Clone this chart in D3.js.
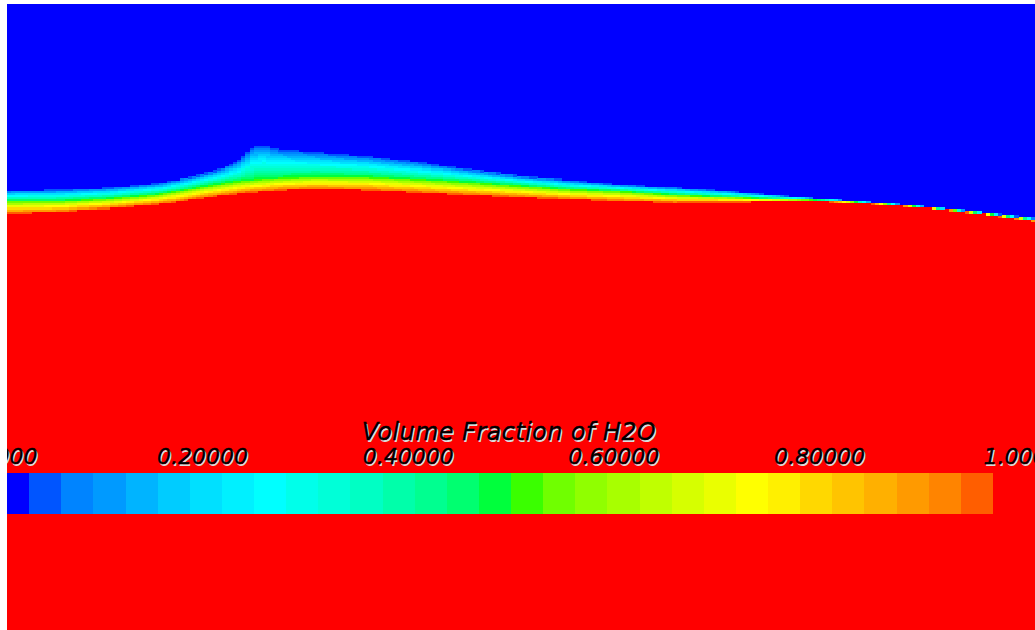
<!DOCTYPE html>
<html>
<head>
<meta charset="utf-8">
<script src="https://cdn.jsdelivr.net/npm/d3@7"></script>
<style>
  html, body { margin: 0; padding: 0; background: #ffffff; }
  svg { display: block; }
</style>
</head>
<body>
<script>
// Free-surface profile along the channel (x and elevation in metres).
// surfaceTop: upper edge of the diffuse interface (fraction -> 0)
// surfaceMid: fraction = 0.5 contour
// surfaceBase: lower edge of the interface (fraction -> 1)
const stationX = [0, 0.1, 0.2, 0.3, 0.35, 0.4, 0.45, 0.48, 0.5, 0.53, 0.6, 0.7, 0.8,
                  0.9, 1.0, 1.1, 1.2, 1.3, 1.4, 1.5, 1.6, 1.7, 1.8, 1.9, 2.0];
const surfaceTop = [0.858, 0.860, 0.864, 0.873, 0.883, 0.896, 0.916, 0.947, 0.949, 0.941,
                    0.934, 0.926, 0.914, 0.900, 0.886, 0.877, 0.869, 0.864, 0.857, 0.848,
                    0.840, 0.833, 0.825, 0.814, 0.802];
const surfaceMid = [0.836, 0.836, 0.841, 0.850, 0.859, 0.868, 0.875, 0.878, 0.880, 0.882,
                    0.885, 0.884, 0.879, 0.873, 0.866, 0.859, 0.855, 0.848, 0.844, 0.840,
                    0.837, 0.831, 0.823, 0.812, 0.799];
const surfaceBase = [0.811, 0.814, 0.821, 0.829, 0.836, 0.843, 0.849, 0.852, 0.853, 0.856,
                     0.858, 0.856, 0.851, 0.846, 0.842, 0.838, 0.834, 0.832, 0.833, 0.834,
                     0.834, 0.829, 0.822, 0.810, 0.797];

// 32-band colour map for the volume fraction
const bandColors = [
  "#0000ff", "#0055ff", "#0084ff", "#009aff", "#00b4ff", "#00ccff", "#00e0ff", "#00f0ff",
  "#00ffff", "#00ffea", "#00ffd8", "#00ffc4", "#00ffaa", "#00ff90", "#00ff70", "#00ff3c",
  "#3aff00", "#70ff00", "#90ff00", "#a8ff00", "#c0ff00", "#d6ff00", "#eaff00", "#ffff00",
  "#fff000", "#ffd800", "#ffc400", "#ffb000", "#ff9a00", "#ff8400", "#ff5e00", "#ff0000"
];
const legendTicks = [0, 0.2, 0.4, 0.6, 0.8, 1.0];
const legendTitle = "Volume Fraction of H2O";

const W = 1035, H = 630;
const svg = d3.select("body").append("svg").attr("width", W).attr("height", H);

const view = { left: 7, top: 4 };
svg.append("defs").append("clipPath").attr("id", "view")
  .append("rect").attr("x", view.left).attr("y", view.top)
  .attr("width", W - view.left).attr("height", H - view.top);

const g = svg.append("g").attr("clip-path", "url(#view)");

const x = d3.scaleLinear().domain([0, 2]).range([view.left, W]);
const y = d3.scaleLinear().domain([0, 1.22]).range([H, view.top]);

// piecewise-linear profiles along x
const topAt = d3.scaleLinear().domain(stationX).range(surfaceTop).clamp(true);
const midAt = d3.scaleLinear().domain(stationX).range(surfaceMid).clamp(true);
const baseAt = d3.scaleLinear().domain(stationX).range(surfaceBase).clamp(true);

function fractionAt(xv, h) {
  const t = topAt(xv), m = midAt(xv), b = baseAt(xv);
  if (h >= t) return 0;
  if (h >= m) return 0.5 * (t - h) / (t - m);
  if (h >= b) return 0.5 + 0.5 * (m - h) / (m - b);
  return 1;
}
const bandOf = a => Math.max(0, Math.min(bandColors.length - 1, Math.floor(a * bandColors.length)));

// air (background)
g.append("rect")
  .attr("x", x(0)).attr("y", y(1.22))
  .attr("width", x(2) - x(0)).attr("height", y(0) - y(1.22))
  .attr("fill", bandColors[0]);

// water below the interface
const dx = 0.008, dh = 0.004;
const cols = d3.range(0, 2, dx);
g.append("path")
  .datum(cols.concat([2]))
  .attr("fill", bandColors[bandColors.length - 1])
  .attr("d", d3.area()
    .x(d => x(d))
    .y0(y(0))
    .y1(d => y(baseAt(d)))
    .curve(d3.curveStepAfter));

// interface cells
const cells = [];
cols.forEach(c => {
  const xc = c + dx / 2;
  const r0 = Math.floor(baseAt(xc) / dh) - 1;
  const r1 = Math.ceil(topAt(xc) / dh) + 1;
  for (let r = r0; r <= r1; r++) {
    const hc = r * dh + dh / 2;
    const k = bandOf(fractionAt(xc, hc));
    if (k > 0) cells.push({ c, r, k });
  }
});
g.append("g").selectAll("rect")
  .data(cells)
  .join("rect")
  .attr("x", d => x(d.c))
  .attr("y", d => y((d.r + 1) * dh))
  .attr("width", x(dx) - x(0) + 0.3)
  .attr("height", y(0) - y(dh) + 0.3)
  .attr("fill", d => bandColors[d.k])
  .attr("shape-rendering", "crispEdges");

// colour legend
const xb = d3.scaleLinear().domain([0, 1]).range([-3, 1025]);
const legend = g.append("g");
legend.selectAll("rect")
  .data(bandColors)
  .join("rect")
  .attr("x", (d, i) => xb(i / bandColors.length))
  .attr("width", (d, i) => xb((i + 1) / bandColors.length) - xb(i / bandColors.length) + 0.5)
  .attr("y", 473)
  .attr("height", 41)
  .attr("fill", d => d)
  .attr("shape-rendering", "crispEdges");

const fmt = d3.format(".5f");
function labelFont(sel, size) {
  sel.attr("font-family", "'DejaVu Sans', Verdana, sans-serif")
     .attr("font-style", "oblique")
     .attr("font-size", size)
     .attr("text-anchor", "middle");
}
// end labels sit a little outside the bar ends
const edgeShift = d => (d === 0 ? -5 : d === 1 ? 4 : 0);
const labelY = 464;
legend.selectAll("text.tick-shadow")
  .data(legendTicks)
  .join("text")
  .attr("class", "tick-shadow")
  .attr("x", d => xb(d) + edgeShift(d) + 1.5).attr("y", labelY + 1.5)
  .attr("fill", "#dcdcdc")
  .text(d => fmt(d))
  .call(labelFont, 22);
legend.selectAll("text.tick")
  .data(legendTicks)
  .join("text")
  .attr("class", "tick")
  .attr("x", d => xb(d) + edgeShift(d)).attr("y", labelY)
  .attr("fill", "#000")
  .attr("stroke", "#000").attr("stroke-width", 0.4)
  .text(d => fmt(d))
  .call(labelFont, 22);

legend.append("text")
  .attr("x", 509 + 1.5).attr("y", 440 + 1.5)
  .attr("fill", "#dcdcdc")
  .attr("letter-spacing", 0.4)
  .text(legendTitle)
  .call(labelFont, 24);
legend.append("text")
  .attr("x", 509).attr("y", 440)
  .attr("fill", "#000")
  .attr("stroke", "#000").attr("stroke-width", 0.4)
  .attr("letter-spacing", 0.4)
  .text(legendTitle)
  .call(labelFont, 24);
</script>
</body>
</html>
